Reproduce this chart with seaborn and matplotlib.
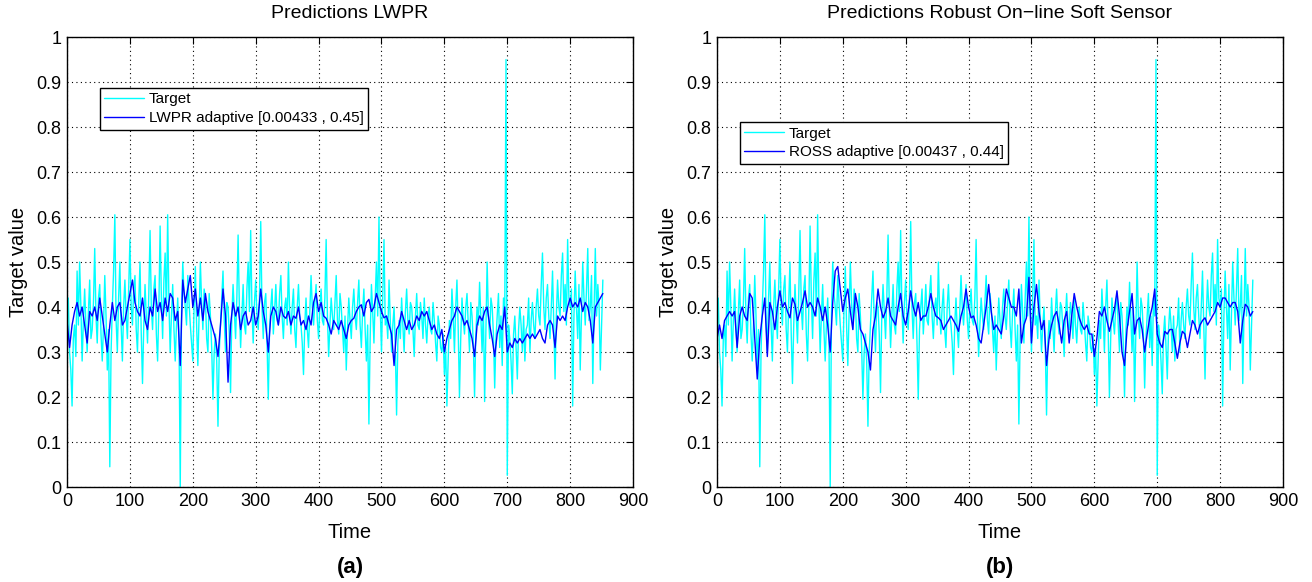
import numpy as np
import pandas as pd
import matplotlib
matplotlib.use('Agg')
import matplotlib.pyplot as plt
import seaborn as sns

sns.set_style('white')
plt.rcParams['font.family'] = ['Liberation Sans', 'DejaVu Sans']
plt.rcParams['text.color'] = 'black'
plt.rcParams['axes.labelcolor'] = 'black'
plt.rcParams['xtick.color'] = 'black'
plt.rcParams['ytick.color'] = 'black'

# time index: target read every 2 steps, predictions every 4 steps
time_target = np.arange(0, 853, 2)
time_pred = np.arange(0, 853, 4)

# target value (same in both panels)
target = [
    0.38, 0.42, 0.30, 0.26, 0.18, 0.33, 0.36, 0.29, 0.48, 0.36, 0.50, 0.40, 0.28, 0.37, 0.44, 0.36, 0.30,
    0.39, 0.46, 0.33, 0.35, 0.41, 0.53, 0.38, 0.32, 0.42, 0.45, 0.34, 0.28, 0.36, 0.47, 0.38, 0.26, 0.35,
    0.045, 0.30, 0.40, 0.48, 0.605, 0.37, 0.30, 0.42, 0.50, 0.36, 0.28, 0.40, 0.46, 0.38, 0.33, 0.44,
    0.55, 0.40, 0.36, 0.44, 0.47, 0.35, 0.30, 0.41, 0.50, 0.34, 0.23, 0.36, 0.45, 0.38, 0.32, 0.43, 0.57,
    0.40, 0.35, 0.44, 0.47, 0.34, 0.28, 0.40, 0.58, 0.42, 0.33, 0.46, 0.52, 0.38, 0.605, 0.41, 0.30, 0.38,
    0.45, 0.35, 0.28, 0.36, 0.42, 0.33, 0.0, 0.38, 0.50, 0.43, 0.40, 0.36, 0.47, 0.41, 0.36, 0.32,
    0.28, 0.40, 0.49, 0.36, 0.27, 0.39, 0.50, 0.41, 0.35, 0.44, 0.42, 0.33, 0.30, 0.43, 0.38, 0.31, 0.195,
    0.30, 0.34, 0.28, 0.135, 0.30, 0.36, 0.42, 0.48, 0.37, 0.30, 0.41, 0.40, 0.34, 0.21, 0.38, 0.45, 0.39,
    0.33, 0.42, 0.56, 0.40, 0.31, 0.38, 0.45, 0.36, 0.34, 0.44, 0.50, 0.39, 0.57, 0.40, 0.32, 0.41,
    0.46, 0.38, 0.35, 0.42, 0.59, 0.40, 0.33, 0.41, 0.43, 0.32, 0.195, 0.35, 0.40, 0.44, 0.34, 0.39, 0.45,
    0.37, 0.36, 0.43, 0.47, 0.38, 0.33, 0.40, 0.42, 0.36, 0.50, 0.39, 0.34, 0.40, 0.44, 0.35, 0.31, 0.40,
    0.45, 0.38, 0.36, 0.32, 0.25, 0.36, 0.42, 0.35, 0.31, 0.39, 0.47, 0.40, 0.36, 0.41, 0.45, 0.37,
    0.33, 0.40, 0.44, 0.37, 0.36, 0.42, 0.55, 0.38, 0.29, 0.36, 0.42, 0.38, 0.35, 0.41, 0.47, 0.37, 0.34,
    0.43, 0.40, 0.35, 0.30, 0.38, 0.26, 0.35, 0.42, 0.37, 0.33, 0.40, 0.44, 0.38, 0.35, 0.41, 0.46, 0.36,
    0.31, 0.39, 0.44, 0.35, 0.28, 0.36, 0.14, 0.33, 0.45, 0.39, 0.32, 0.42, 0.50, 0.38, 0.60, 0.40,
    0.30, 0.42, 0.55, 0.36, 0.38, 0.33, 0.46, 0.37, 0.30, 0.36, 0.40, 0.31, 0.16, 0.32, 0.37, 0.33, 0.42,
    0.36, 0.30, 0.39, 0.44, 0.37, 0.34, 0.41, 0.40, 0.35, 0.29, 0.38, 0.43, 0.36, 0.35, 0.41, 0.38, 0.33,
    0.42, 0.36, 0.32, 0.38, 0.40, 0.35, 0.34, 0.41, 0.37, 0.32, 0.28, 0.38, 0.36, 0.31, 0.30, 0.34,
    0.25, 0.31, 0.18, 0.28, 0.37, 0.33, 0.44, 0.38, 0.30, 0.40, 0.46, 0.35, 0.20, 0.33, 0.42, 0.37, 0.34,
    0.40, 0.43, 0.36, 0.30, 0.41, 0.38, 0.32, 0.20, 0.34, 0.40, 0.36, 0.455, 0.38, 0.30, 0.40, 0.19, 0.35,
    0.50, 0.38, 0.33, 0.42, 0.40, 0.34, 0.22, 0.33, 0.38, 0.43, 0.31, 0.38, 0.27, 0.42, 0.38, 0.95,
    0.026, 0.36, 0.33, 0.28, 0.207, 0.34, 0.38, 0.31, 0.24, 0.35, 0.40, 0.36, 0.30, 0.38, 0.28, 0.35, 0.36,
    0.42, 0.30, 0.37, 0.41, 0.36, 0.33, 0.40, 0.44, 0.38, 0.36, 0.45, 0.52, 0.40, 0.35, 0.42, 0.45, 0.38,
    0.33, 0.40, 0.48, 0.36, 0.24, 0.38, 0.46, 0.40, 0.38, 0.47, 0.52, 0.39, 0.45, 0.36, 0.55, 0.42,
    0.40, 0.44, 0.18, 0.38, 0.48, 0.40, 0.33, 0.45, 0.26, 0.38, 0.50, 0.42, 0.36, 0.44, 0.53, 0.37, 0.40,
    0.47, 0.23, 0.39, 0.53, 0.38, 0.45, 0.40, 0.26, 0.36, 0.46,
]

# LWPR adaptive prediction
lwpr = [
    0.37, 0.31, 0.36, 0.39, 0.41, 0.38, 0.40, 0.36, 0.32, 0.39, 0.38, 0.40, 0.37,
    0.42, 0.38, 0.34, 0.30, 0.36, 0.41, 0.37, 0.40, 0.41, 0.36, 0.37, 0.40,
    0.43, 0.46, 0.41, 0.39, 0.38, 0.42, 0.37, 0.35, 0.40, 0.38, 0.44, 0.39, 0.41,
    0.37, 0.42, 0.39, 0.43, 0.42, 0.37, 0.39, 0.27, 0.46, 0.41, 0.44, 0.47,
    0.40, 0.44, 0.38, 0.42, 0.37, 0.43, 0.39, 0.37, 0.35, 0.33, 0.29, 0.36, 0.44,
    0.38, 0.233, 0.36, 0.41, 0.38, 0.40, 0.35, 0.38, 0.39, 0.36, 0.37, 0.40,
    0.36, 0.38, 0.44, 0.39, 0.36, 0.30, 0.38, 0.40, 0.39, 0.36, 0.40, 0.38, 0.375,
    0.39, 0.36, 0.38, 0.375, 0.40, 0.36, 0.37, 0.35, 0.38, 0.36, 0.41, 0.43,
    0.39, 0.41, 0.38, 0.375, 0.36, 0.34, 0.37, 0.36, 0.35, 0.37, 0.35, 0.33, 0.36,
    0.37, 0.375, 0.39, 0.40, 0.405, 0.38, 0.41, 0.417, 0.39, 0.40, 0.43, 0.41,
    0.39, 0.376, 0.38, 0.36, 0.34, 0.27, 0.35, 0.36, 0.39, 0.37, 0.35, 0.37, 0.35,
    0.36, 0.38, 0.37, 0.39, 0.38, 0.39, 0.37, 0.35, 0.36, 0.34, 0.33, 0.35,
    0.30, 0.33, 0.35, 0.37, 0.38, 0.40, 0.39, 0.38, 0.36, 0.37, 0.35, 0.33, 0.29,
    0.36, 0.38, 0.37, 0.39, 0.40, 0.36, 0.33, 0.29, 0.34, 0.36, 0.35, 0.40,
    0.30, 0.32, 0.31, 0.33, 0.32, 0.33, 0.32, 0.33, 0.34, 0.33, 0.34, 0.33, 0.34,
    0.35, 0.33, 0.32, 0.36, 0.37, 0.36, 0.31, 0.38, 0.37, 0.38, 0.37, 0.40,
    0.42, 0.40, 0.41, 0.40, 0.42, 0.39, 0.41, 0.40, 0.37, 0.32, 0.40, 0.41, 0.42,
    0.43,
]

# ROSS adaptive prediction
ross = [
    0.33, 0.36, 0.33, 0.37, 0.38, 0.39, 0.38, 0.39, 0.31, 0.38, 0.40, 0.38, 0.37,
    0.43, 0.42, 0.33, 0.24, 0.33, 0.38, 0.42, 0.29, 0.41, 0.39, 0.35, 0.40,
    0.436, 0.40, 0.41, 0.39, 0.376, 0.42, 0.406, 0.37, 0.39, 0.41, 0.436, 0.40, 0.41,
    0.40, 0.38, 0.42, 0.40, 0.37, 0.40, 0.36, 0.30, 0.41, 0.48, 0.49, 0.44,
    0.39, 0.42, 0.44, 0.39, 0.35, 0.43, 0.40, 0.35, 0.34, 0.32, 0.30, 0.26, 0.35,
    0.38, 0.44, 0.40, 0.376, 0.39, 0.42, 0.38, 0.37, 0.36, 0.40, 0.43, 0.38,
    0.36, 0.39, 0.436, 0.40, 0.38, 0.41, 0.37, 0.38, 0.38, 0.40, 0.43, 0.40, 0.38,
    0.376, 0.37, 0.35, 0.36, 0.37, 0.38, 0.37, 0.36, 0.346, 0.38, 0.40, 0.44,
    0.40, 0.376, 0.38, 0.36, 0.33, 0.32, 0.36, 0.40, 0.45, 0.39, 0.35, 0.36, 0.35,
    0.34, 0.38, 0.44, 0.42, 0.40, 0.40, 0.38, 0.44, 0.32, 0.36, 0.376, 0.466,
    0.32, 0.40, 0.45, 0.39, 0.35, 0.37, 0.27, 0.33, 0.36, 0.38, 0.39, 0.36, 0.32,
    0.37, 0.39, 0.32, 0.38, 0.43, 0.40, 0.376, 0.36, 0.35, 0.36, 0.34, 0.34,
    0.29, 0.33, 0.39, 0.38, 0.40, 0.37, 0.346, 0.37, 0.395, 0.436, 0.38, 0.30, 0.27,
    0.35, 0.39, 0.43, 0.34, 0.37, 0.376, 0.35, 0.30, 0.34, 0.376, 0.40, 0.44,
    0.34, 0.32, 0.31, 0.346, 0.34, 0.35, 0.35, 0.32, 0.286, 0.32, 0.346, 0.34, 0.31,
    0.34, 0.37, 0.36, 0.34, 0.36, 0.37, 0.376, 0.36, 0.37, 0.38, 0.39, 0.41,
    0.40, 0.42, 0.42, 0.41, 0.40, 0.41, 0.41, 0.39, 0.32, 0.37, 0.406, 0.40, 0.38,
    0.39,
]

df_target = pd.DataFrame({'time': time_target, 'target': target})
df_pred = pd.DataFrame({'time': time_pred, 'lwpr': lwpr, 'ross': ross})

fig = plt.figure(figsize=(13.12, 5.82), dpi=100)
ax1 = fig.add_axes([0.0511, 0.1632, 0.4314, 0.7732])
ax2 = fig.add_axes([0.5465, 0.1632, 0.4314, 0.7732])

panels = [
    (ax1, 'lwpr', 'LWPR adaptive [0.00433 , 0.45]', 'Predictions LWPR', '(a)', (0.058, 0.887)),
    (ax2, 'ross', 'ROSS adaptive [0.00437 , 0.44]', 'Predictions Robust On\u2212line Soft Sensor', '(b)', (0.04, 0.811)),
]

for ax, col, lab, title, letter, anchor in panels:
    sns.lineplot(data=df_target, x='time', y='target', ax=ax, color='#00FFFF', lw=1.0, label='Target')
    sns.lineplot(data=df_pred, x='time', y=col, ax=ax, color='#0000FF', lw=1.0, label=lab)
    ax.set_xlim(0, 900)
    ax.set_ylim(0, 1)
    ax.set_xticks(np.arange(0, 901, 100))
    ax.set_yticks(np.arange(0, 1.01, 0.1))
    ax.set_yticklabels(['0', '0.1', '0.2', '0.3', '0.4', '0.5', '0.6', '0.7', '0.8', '0.9', '1'])
    ax.grid(True, color='black', linestyle=(0, (1, 3)), linewidth=0.8)
    ax.tick_params(direction='in', length=5, width=0.8, top=True, right=True,
                   labelsize=13, pad=4, colors='black')
    for sp in ax.spines.values():
        sp.set_visible(True)
        sp.set_color('black')
        sp.set_linewidth(1.0)
    ax.set_title(title, fontsize=14, pad=14, color='black')
    ax.set_xlabel('Time', fontsize=14.5, labelpad=10)
    ax.set_ylabel('Target value', fontsize=14.5, labelpad=6)
    leg = ax.legend(loc='upper left', bbox_to_anchor=anchor, fontsize=11,
                    frameon=True, fancybox=False, framealpha=1, edgecolor='black',
                    handlelength=2.6, handletextpad=0.3, borderpad=0.3,
                    labelspacing=0.3, borderaxespad=0)
    leg.get_frame().set_linewidth(1.0)
    for txt in leg.get_texts():
        txt.set_color('black')
    ax.text(0.5, -0.178, letter, transform=ax.transAxes, ha='center', va='center',
            fontsize=16, fontweight='bold', color='black')

fig.savefig('out.png', dpi=100)
